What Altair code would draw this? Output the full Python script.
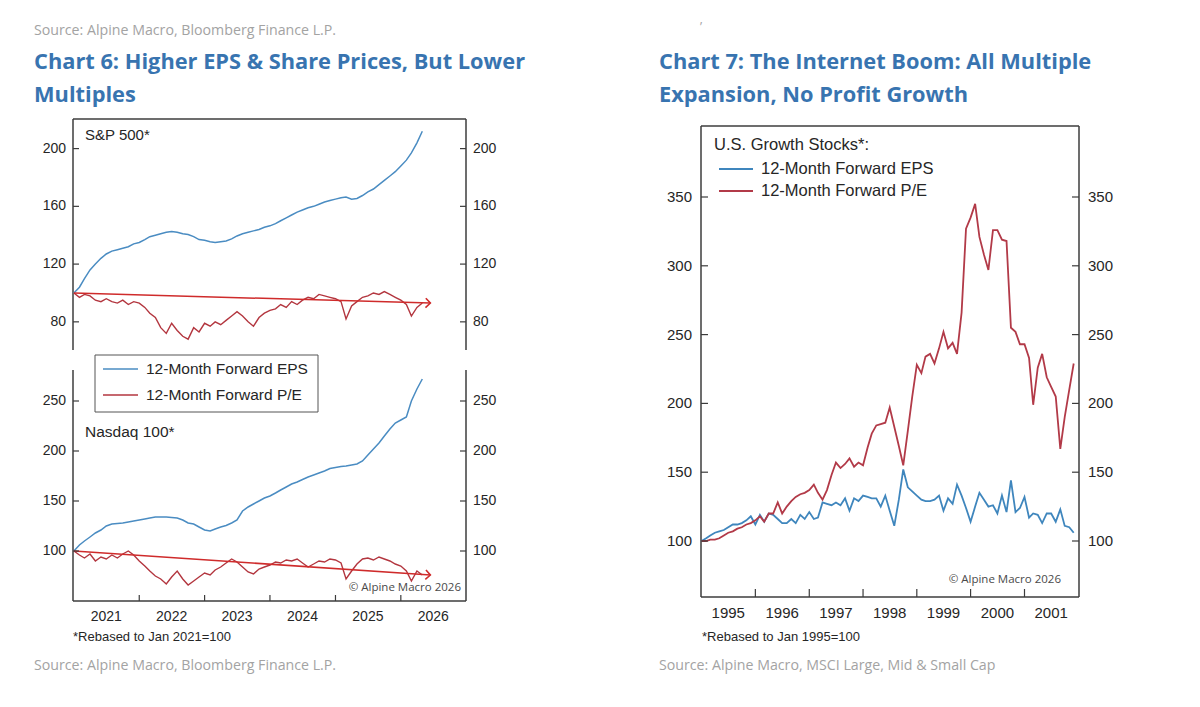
import altair as alt
import pandas as pd

# ---------------------------------------------------------------------------
# Chart 6: S&P 500 and Nasdaq 100, monthly, rebased Jan 2021 = 100
# ---------------------------------------------------------------------------
dates_6 = pd.date_range("2021-01-01", periods=65, freq="MS")

spx_eps = [100, 104, 110, 116, 120, 124, 127, 129, 130, 131, 132, 134,
           135, 137, 139, 140, 141, 142, 142.5, 142, 141, 140.5, 139, 137,
           136.5, 135.5, 135, 135.5, 136, 137.5, 139.5, 141, 142, 143, 144, 145.5,
           146.5, 148, 150, 152, 154, 156, 157.5, 159, 160, 161.5, 163, 164,
           165, 166, 166.5, 165, 165.5, 167.5, 170, 172, 175, 178, 181, 184,
           188, 192, 197, 204, 212]
spx_pe = [100, 97, 99, 98, 95, 94, 96, 94, 93, 95, 92, 94,
          93, 90, 86, 83, 76, 72, 79, 74, 70, 68, 76, 73,
          79, 77, 80, 78, 81, 84, 87, 84, 80, 77, 83, 86,
          88, 89, 92, 90, 94, 92, 95, 97, 96, 99, 98, 97,
          96, 94, 82, 91, 94, 97, 98, 100, 99, 101, 99, 97,
          95, 92, 84, 90, 93]
ndx_eps = [100, 106, 110, 114, 118, 121, 125, 127, 127.5, 128, 129, 130,
           131, 132, 133, 134, 134, 134, 133.5, 133, 131, 128, 127, 124,
           121, 120, 122, 124, 125.5, 128, 131, 140, 144, 147, 150, 153,
           155, 158, 161, 164, 167, 169, 171.5, 174, 176, 178, 180, 182.5,
           183.5, 184.5, 185, 186, 187, 190, 196, 202, 208, 215, 222, 228,
           231, 234, 250, 262, 272]
ndx_pe = [100, 96, 93, 97, 90, 94, 92, 96, 93, 97, 100, 96,
          90, 85, 80, 75, 72, 67, 74, 80, 72, 66, 70, 74,
          78, 76, 81, 84, 88, 92, 89, 84, 79, 77, 82, 84,
          86, 89, 88, 91, 90, 92, 88, 84, 87, 90, 89, 92,
          91, 88, 72, 80, 87, 92, 93, 91, 94, 92, 90, 87,
          85, 80, 70, 80, 76]

# P/E trend arrows: start and end
trend_dates_6 = pd.to_datetime(["2021-01-01", "2026-06-15"])
spx_trend = [100, 93]
ndx_trend = [100, 76]

years_6 = [2021, 2022, 2023, 2024, 2025, 2026]
spx_ticks = [80, 120, 160, 200]
ndx_ticks = [100, 150, 200, 250]

# ---------------------------------------------------------------------------
# Chart 7: U.S. growth stocks, monthly, rebased Jan 1995 = 100
# ---------------------------------------------------------------------------
dates_7 = pd.date_range("1995-01-01", periods=84, freq="MS")

growth_eps = [100, 102, 104, 106, 107, 108, 110, 112, 112, 113, 115, 118,
              112, 119, 114, 120, 119, 116, 113, 113, 116, 113, 119, 116,
              121, 116, 117, 128, 127, 126, 128, 126, 131, 122, 131, 129,
              133, 132, 131, 131, 125, 133, 122, 111, 130, 152, 139, 136,
              133, 130, 129, 129, 130, 133, 122, 131, 127, 141, 133, 124,
              114, 125, 135, 130, 125, 126, 120, 133, 121, 144, 121, 124,
              132, 117, 120, 119, 113, 120, 120, 114, 123, 111, 110, 106]
growth_pe = [100, 100, 101, 101, 102, 104, 106, 107, 109, 110, 112, 113,
             115, 118, 114, 120, 120, 128, 120, 125, 129, 132, 134, 135,
             137, 141, 135, 130, 137, 148, 157, 153, 156, 160, 154, 157,
             155, 168, 178, 184, 185, 186, 197, 183, 169, 155, 180, 205,
             228, 222, 234, 236, 229, 240, 252, 240, 244, 236, 266, 327,
             335, 345, 321, 308, 297, 326, 326, 319, 318, 255, 252, 243,
             243, 233, 199, 226, 236, 219, 212, 205, 167, 190, 210, 229]

years_7 = [1995, 1996, 1997, 1998, 1999, 2000, 2001]
growth_ticks = [100, 150, 200, 250, 300, 350]

SERIES = ["12-Month Forward EPS", "12-Month Forward P/E"]

# ---------------------------------------------------------------------------
# Styling and panel geometry (pixel frames of the three plot areas)
# ---------------------------------------------------------------------------
FONT = "Liberation Sans"
SANS = "Open Sans"
BLUE = "#4a8cc2"
RED = "#b3363f"
BLUE7 = "#3f86bd"
RED7 = "#b23a48"
ARROW = "#cf2b2b"
INK = "#262626"
FRAME = "#3c3c3c"
TITLE_BLUE = "#3874b0"
GREY = "#a3a3a3"
TITLE_SIZE = 21.8
SOURCE_SIZE = 14.2

D = alt.DateTime
SPX = dict(x0=73, x1=466, y0=119, y1=350,
           xdom=[D(year=2020, month=12, date=27), D(year=2026, month=12, date=31)],
           ydom=[60.5, 220.5])
NDX = dict(x0=73, x1=466, y0=370, y1=601,
           xdom=SPX["xdom"], ydom=[50, 281])
GRO = dict(x0=701, x1=1079, y0=126, y1=597,
           xdom=[D(year=1994, month=12, date=28), D(year=2002, month=1, date=6)],
           ydom=[59.3, 401.6])

one_row = pd.DataFrame({"_": [0]})


def sx(p):
    return alt.Scale(domain=p["xdom"], range=[p["x0"], p["x1"]])


def sy(p):
    return alt.Scale(domain=p["ydom"], range=[p["y1"], p["y0"]], nice=False, zero=False)


def X(p):
    return alt.X("date:T", scale=sx(p), axis=None)


def Y(p, field="value"):
    return alt.Y(f"{field}:Q", scale=sy(p), axis=None)


def text(txt, x, y, size, color=INK, font=FONT, weight="normal", align="left"):
    return alt.Chart(one_row).mark_text(
        text=txt, font=font, fontSize=size, fontWeight=weight, color=color,
        align=align, baseline="middle",
    ).encode(x=alt.value(x), y=alt.value(y))


def segment(x0, y0, x1, y1, color=FRAME, width=1.5):
    return alt.Chart(one_row).mark_rule(color=color, strokeWidth=width).encode(
        x=alt.value(x0), y=alt.value(y0), x2=alt.value(x1), y2=alt.value(y1))


def series_line(p, dates, values, color, width):
    df = pd.DataFrame({"date": dates, "value": values})
    return alt.Chart(df).mark_line(color=color, strokeWidth=width).encode(x=X(p), y=Y(p))


def trend_arrow(p, values, angle):
    df = pd.DataFrame({"date": trend_dates_6, "value": values})
    line = alt.Chart(df).mark_line(color=ARROW, strokeWidth=1.5).encode(x=X(p), y=Y(p))
    head = alt.Chart(df.tail(1)).mark_point(
        shape="M-1,-1L0,0L-1,1", filled=False, size=90, strokeWidth=1.6,
        color=ARROW, opacity=1, angle=angle,
    ).encode(x=X(p), y=Y(p))
    return [line, head]


def y_axes(p, ticks, tick_len, size, pad):
    df = pd.DataFrame({"v": ticks, "lab": [str(t) for t in ticks]})
    base = alt.Chart(df)
    y = Y(p, "v")
    return [
        base.mark_rule(color=FRAME, strokeWidth=1.2).encode(
            y=y, x=alt.value(p["x0"]), x2=alt.value(p["x0"] + tick_len)),
        base.mark_rule(color=FRAME, strokeWidth=1.2).encode(
            y=y, x=alt.value(p["x1"] - tick_len), x2=alt.value(p["x1"])),
        base.mark_text(align="right", baseline="middle", font=FONT, fontSize=size,
                       color=INK).encode(y=y, x=alt.value(p["x0"] - pad), text="lab:N"),
        base.mark_text(align="left", baseline="middle", font=FONT, fontSize=size,
                       color=INK).encode(y=y, x=alt.value(p["x1"] + pad), text="lab:N"),
    ]


def x_years(p, years, tick_len, label_y, size):
    tdf = pd.DataFrame({"date": pd.to_datetime([f"{y}-01-01" for y in years[1:]])})
    ldf = pd.DataFrame({"date": pd.to_datetime([f"{y}-07-01" for y in years]),
                        "lab": [str(y) for y in years]})
    return [
        alt.Chart(tdf).mark_rule(color=FRAME, strokeWidth=1.2).encode(
            x=X(p), y=alt.value(p["y1"] - tick_len), y2=alt.value(p["y1"])),
        alt.Chart(ldf).mark_text(align="center", baseline="middle", font=FONT,
                                 fontSize=size, color=INK).encode(
            x=X(p), y=alt.value(label_y), text="lab:N"),
    ]


layers = []

# ---- Chart 6 frames
layers += [
    segment(SPX["x0"], SPX["y0"], SPX["x1"], SPX["y0"]),
    segment(SPX["x0"], SPX["y0"], SPX["x0"], SPX["y1"]),
    segment(SPX["x1"], SPX["y0"], SPX["x1"], SPX["y1"]),
    segment(NDX["x0"], NDX["y0"], NDX["x0"], NDX["y1"]),
    segment(NDX["x1"], NDX["y0"], NDX["x1"], NDX["y1"]),
    segment(NDX["x0"], NDX["y1"], NDX["x1"], NDX["y1"]),
]

# ---- Chart 6 data
layers += [
    series_line(SPX, dates_6, spx_eps, BLUE, 1.5),
    series_line(SPX, dates_6, spx_pe, RED, 1.4),
    *trend_arrow(SPX, spx_trend, 2),
    series_line(NDX, dates_6, ndx_eps, BLUE, 1.5),
    series_line(NDX, dates_6, ndx_pe, RED, 1.4),
    *trend_arrow(NDX, ndx_trend, 4),
]

# ---- Chart 6 axes
layers += y_axes(SPX, spx_ticks, 6, 14, 7)
layers += y_axes(NDX, ndx_ticks, 6, 14, 7)
layers += x_years(NDX, years_6, 6, 617, 14)

# ---- Chart 6 legend
layers += [
    alt.Chart(one_row).mark_rect(fill="white", stroke="#555555", strokeWidth=1).encode(
        x=alt.value(95), x2=alt.value(318), y=alt.value(355), y2=alt.value(412)),
    segment(103, 369, 138, 369, BLUE, 1.6),
    segment(103, 395, 138, 395, RED, 1.6),
    text(SERIES[0], 146, 369, 15.5),
    text(SERIES[1], 146, 395, 15.5),
]

# ---- Chart 6 text
layers += [
    text("Source: Alpine Macro, Bloomberg Finance L.P.", 34, 31, SOURCE_SIZE, GREY, SANS),
    text("Chart 6: Higher EPS & Share Prices, But Lower", 34, 62, TITLE_SIZE, TITLE_BLUE, SANS, "bold"),
    text("Multiples", 34, 95, TITLE_SIZE, TITLE_BLUE, SANS, "bold"),
    text("S&P 500*", 85, 135, 15),
    text("Nasdaq 100*", 85, 432, 15.5),
    text("\u00a9 Alpine Macro 2026", 461, 588, 11.5, "#4a4a4a", SANS, align="right"),
    text("*Rebased to Jan 2021=100", 73, 637, 13),
    text("Source: Alpine Macro, Bloomberg Finance L.P.", 34, 666, SOURCE_SIZE, GREY, SANS),
]

# ---- Chart 7 frame, data, axes
layers += [
    segment(GRO["x0"], GRO["y0"], GRO["x1"], GRO["y0"]),
    segment(GRO["x0"], GRO["y1"], GRO["x1"], GRO["y1"]),
    segment(GRO["x0"], GRO["y0"], GRO["x0"], GRO["y1"]),
    segment(GRO["x1"], GRO["y0"], GRO["x1"], GRO["y1"]),
    series_line(GRO, dates_7, growth_eps, BLUE7, 1.8),
    series_line(GRO, dates_7, growth_pe, RED7, 1.8),
]
layers += y_axes(GRO, growth_ticks, 7, 15, 9)
layers += x_years(GRO, years_7, 8, 613, 15)

# ---- Chart 7 legend and text
layers += [
    text("U.S. Growth Stocks*:", 714, 145, 16.5),
    segment(719, 169, 753, 169, BLUE7, 2),
    segment(719, 191, 753, 191, RED7, 2),
    text(SERIES[0], 761, 169, 16.5),
    text(SERIES[1], 761, 191, 16.5),
    text("\u2019", 700, 27, 12, GREY, SANS),
    text("Chart 7: The Internet Boom: All Multiple", 659, 62, TITLE_SIZE, TITLE_BLUE, SANS, "bold"),
    text("Expansion, No Profit Growth", 659, 95, TITLE_SIZE, TITLE_BLUE, SANS, "bold"),
    text("\u00a9 Alpine Macro 2026", 1061, 580, 11.5, "#4a4a4a", SANS, align="right"),
    text("*Rebased to Jan 1995=100", 702, 637, 13),
    text("Source: Alpine Macro, MSCI Large, Mid & Small Cap", 659, 666, SOURCE_SIZE, GREY, SANS),
]

chart = alt.layer(*layers).resolve_scale(
    x="independent", y="independent"
).properties(
    width=1200, height=707, padding=0, background="white",
    autosize=alt.AutoSizeParams(type="none"),
).configure_view(stroke=None)

chart.save("out.html", embed_options={"renderer": "svg", "actions": False})
